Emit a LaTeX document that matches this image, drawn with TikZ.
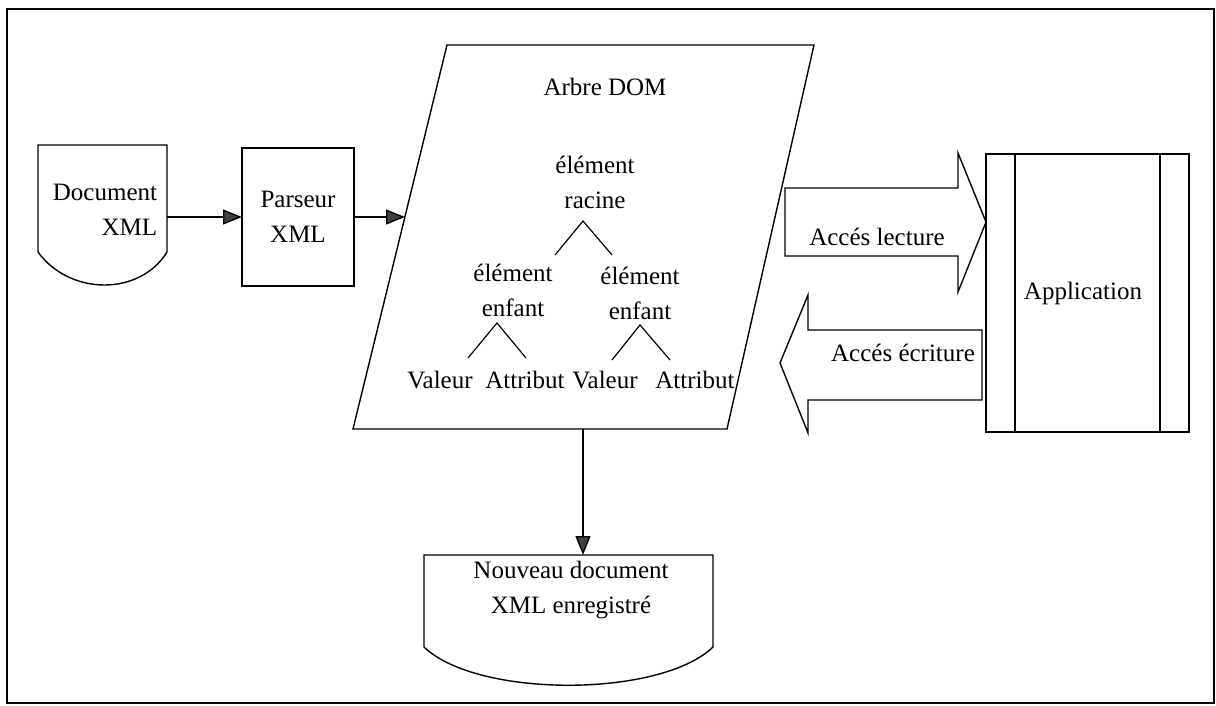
\documentclass[tikz,border=0pt]{standalone}
\usepackage{fontspec}
\setmainfont{Liberation Serif}
\usetikzlibrary{arrows.meta}
\begin{document}
\begin{tikzpicture}[x=1pt,y=-1pt,
  every node/.style={inner sep=0pt, outer sep=0pt},
  lbl/.style={font=\fontsize{25}{35}\selectfont, align=center},
  shapeline/.style={draw=black, line width=1.4pt, line join=miter},
  flow/.style={draw=black, line width=1.4pt,
    -{Triangle[length=19pt,width=15pt,fill=black!75]}},
  boxnode/.style={shapeline, lbl, minimum width=112pt, minimum height=138pt}]

  \useasboundingbox (0,0) rectangle (1216,706);
  % outer frame
  \draw[line width=1.8pt] (7,9) rectangle (1214,703);

  % source document
  \draw[shapeline] (38,145) -- (167,145) -- (167,252)
    .. controls (140,296) and (70,296) .. (38,252) -- cycle;
  \node[lbl, align=right] (docxml) at (105,210) {Document\\XML};
  \coordinate (docR) at (167,217);

  % parser
  \node[boxnode] (parseur) at (298,217) {Parseur\\XML};

  % DOM tree parallelogram
  \draw[shapeline] (447,45) -- (814,45) -- (727,429) -- (353,429) -- cycle;
  \coordinate (domL) at (405,217);
  \coordinate (domB) at (583,429);
  \node[lbl] (arbre) at (605,87) {Arbre DOM};
  \node[lbl] (racine) at (595,182) {élément\\racine};
  \node[lbl] (enfantA) at (513,290) {élément\\enfant};
  \node[lbl] (enfantB) at (640,293) {élément\\enfant};
  \node[lbl] (valA) at (440,380) {Valeur};
  \node[lbl] (attA) at (525,380) {Attribut};
  \node[lbl] (valB) at (605,380) {Valeur};
  \node[lbl] (attB) at (695,380) {Attribut};
  \draw[line width=1.2pt] (555,255) -- (583,221) -- (612,255);
  \draw[line width=1.2pt] (468,358) -- (497,323) -- (526,358);
  \draw[line width=1.2pt] (612,360) -- (640,325) -- (670,360);

  % application
  \node[shapeline, lbl, minimum width=203pt, minimum height=278pt] (app) at (1087.5,293) {};
  \node[lbl] (apptext) at (1083,293) {Application};
  \draw[line width=1.2pt] ([xshift=29pt]app.north west) -- ([xshift=29pt]app.south west);
  \draw[line width=1.2pt] ([xshift=-29pt]app.north east) -- ([xshift=-29pt]app.south east);

  % read / write access block arrows
  \draw[shapeline] (785,188) -- (958,188) -- (958,153) -- (986,222)
    -- (958,292) -- (958,256) -- (785,256) -- cycle;
  \node[lbl] (lecture) at (877,237) {Accés lecture};
  \draw[shapeline] (982,330) -- (808,330) -- (808,295) -- (780,363)
    -- (808,433) -- (808,400) -- (982,400) -- cycle;
  \node[lbl] (ecriture) at (903,353) {Accés écriture};

  % saved document
  \draw[shapeline] (424,555) -- (713,555) -- (713,647)
    .. controls (660,698) and (477,698) .. (424,647) -- cycle;
  \node[lbl] (newdoc) at (571,590) {Nouveau document\\XML enregistré};
  \coordinate (newtop) at (583,555);

  % flow connectors
  \draw[flow] (docR) -- (parseur.west);
  \draw[flow] (parseur.east) -- (domL);
  \draw[flow] (domB) -- (newtop);
\end{tikzpicture}
\end{document}
